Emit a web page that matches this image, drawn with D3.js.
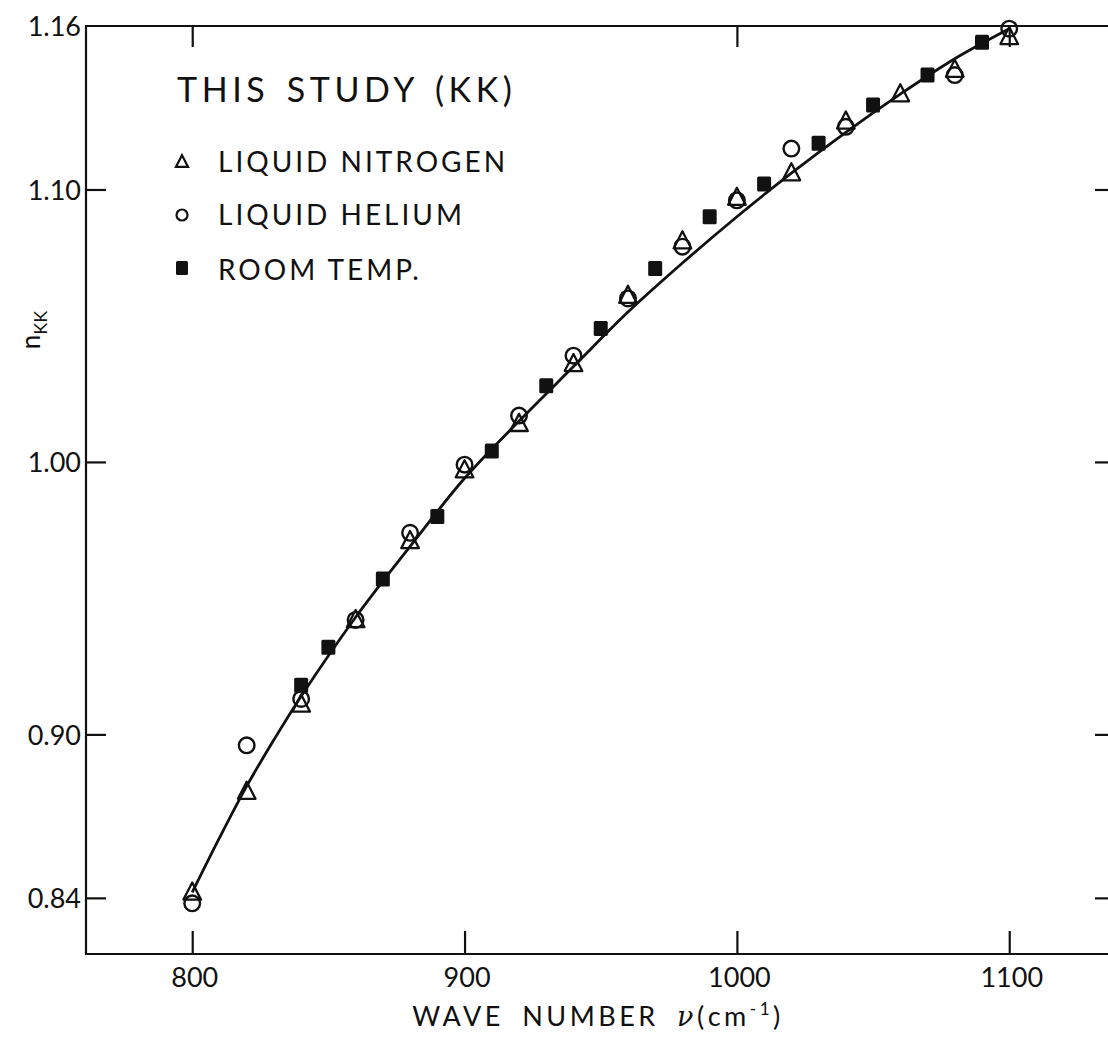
<!DOCTYPE html>
<html>
<head>
<meta charset="utf-8">
<script src="https://cdn.jsdelivr.net/npm/d3@7/dist/d3.min.js"></script>
<style>
  html, body { margin: 0; padding: 0; background: #fff; }
  svg { display: block; }
  text { font-family: Lato, "Open Sans", sans-serif; fill: #111; }
</style>
</head>
<body>
<svg id="chart" width="1108" height="1039"></svg>
<script>
// Refractive index n_KK vs wave number, three sample temperatures
const nitrogenWave = [800, 820, 840, 860, 880, 900, 920, 940, 960, 980, 1000, 1020, 1040, 1060, 1080, 1100];
const nitrogenN    = [0.842, 0.879, 0.911, 0.942, 0.971, 0.997, 1.014, 1.036, 1.061, 1.081, 1.097, 1.106, 1.125, 1.135, 1.144, 1.156];

const heliumWave = [800, 820, 840, 860, 880, 900, 920, 940, 960, 980, 1000, 1020, 1040, 1080, 1100];
const heliumN    = [0.838, 0.896, 0.913, 0.942, 0.974, 0.999, 1.017, 1.039, 1.060, 1.079, 1.096, 1.115, 1.123, 1.142, 1.159];

const roomWave = [840, 850, 870, 890, 910, 930, 950, 970, 990, 1010, 1030, 1050, 1070, 1090];
const roomN    = [0.918, 0.932, 0.957, 0.980, 1.004, 1.028, 1.049, 1.071, 1.090, 1.102, 1.117, 1.131, 1.142, 1.154];

// Smooth fitted curve
const curveWave = [800, 810, 820, 830, 840, 860, 880, 900, 920, 940, 960, 980, 1000, 1020, 1040, 1060, 1080, 1100];
const curveN    = [0.842, 0.862, 0.881, 0.898, 0.914, 0.943, 0.969, 0.994, 1.015, 1.035, 1.055, 1.073, 1.090, 1.106, 1.121, 1.135, 1.148, 1.159];

const xTickValues = [800, 900, 1000, 1100];
const xTickLabels = ["800", "900", "1000", "1100"];
const xTopTickValues = [800, 1000, 1100];
const yTickValues = [0.84, 0.90, 1.00, 1.10, 1.16];
const yTickLabels = ["0.84", "0.90", "1.00", "1.10", "1.16"];

const legendTitle = "THIS STUDY (KK)";
const legendLabels = ["LIQUID NITROGEN", "LIQUID HELIUM", "ROOM TEMP."];

const svg = d3.select("#chart");
const ink = "#111";

const plot = { left: 86, right: 1110, top: 26, bottom: 954 };

const x = d3.scaleLinear().domain([761, 1137]).range([plot.left, plot.right]);
const y = d3.scaleLinear().domain([0.8194, 1.16]).range([plot.bottom, plot.top]);

// Frame
const frame = svg.append("g").attr("stroke", ink).attr("stroke-width", 2.2).attr("fill", "none");
frame.append("line").attr("x1", plot.left).attr("x2", plot.left).attr("y1", plot.top - 1).attr("y2", plot.bottom + 1);
frame.append("line").attr("x1", plot.left).attr("x2", plot.right).attr("y1", plot.bottom).attr("y2", plot.bottom);
frame.append("line").attr("x1", plot.left - 1).attr("x2", plot.right).attr("y1", plot.top).attr("y2", plot.top);
frame.append("line").attr("x1", plot.right).attr("x2", plot.right).attr("y1", plot.top).attr("y2", plot.bottom);

// Bottom axis ticks (pointing inward) and labels
const xAxisBottom = d3.axisBottom(x).tickValues(xTickValues).tickSize(0).tickPadding(0)
  .tickFormat((d, i) => xTickLabels[i]);
const gxb = svg.append("g").attr("transform", `translate(0,${plot.bottom})`).call(xAxisBottom);
gxb.select(".domain").remove();
gxb.selectAll(".tick").append("line").attr("y1", 0).attr("y2", -23).attr("stroke", ink).attr("stroke-width", 2.2);
gxb.selectAll(".tick text").attr("x", 2).attr("y", 33).attr("dy", 0).attr("font-size", 27).attr("fill", ink)
  .style("font-family", "Lato, sans-serif");

// Top axis ticks
const gxt = svg.append("g").attr("transform", `translate(0,${plot.top})`)
  .call(d3.axisTop(x).tickValues(xTopTickValues).tickSize(0).tickFormat(""));
gxt.select(".domain").remove();
gxt.selectAll(".tick").append("line").attr("y1", 0).attr("y2", 21).attr("stroke", ink).attr("stroke-width", 2.2);

// Left axis ticks and labels
const yAxisLeft = d3.axisLeft(y).tickValues(yTickValues).tickSize(0).tickPadding(0)
  .tickFormat((d, i) => yTickLabels[i]);
const gyl = svg.append("g").attr("transform", `translate(${plot.left},0)`).call(yAxisLeft);
gyl.select(".domain").remove();
gyl.selectAll(".tick").filter(d => d < 1.16).append("line").attr("x1", 0).attr("x2", 20)
  .attr("stroke", ink).attr("stroke-width", 2.2);
gyl.selectAll(".tick text").attr("x", -5).attr("dy", "0.36em").attr("font-size", 27).attr("fill", ink)
  .style("font-family", "Lato, sans-serif");

// Right axis ticks
const gyr = svg.append("g").attr("transform", `translate(${plot.right},0)`)
  .call(d3.axisRight(y).tickValues(yTickValues.filter(v => v < 1.16)).tickSize(0).tickFormat(""));
gyr.select(".domain").remove();
gyr.selectAll(".tick").append("line").attr("x1", 0).attr("x2", -15).attr("stroke", ink).attr("stroke-width", 2.2);

// Axis titles
svg.append("text")
  .attr("x", 598).attr("y", 1026)
  .attr("text-anchor", "middle").attr("font-size", 27).attr("letter-spacing", 3.5).attr("word-spacing", 8)
  .html('WAVE NUMBER <tspan font-style="italic" font-family="DejaVu Serif, serif">ν</tspan>(cm<tspan dy="-11" font-size="17">-1</tspan><tspan dy="11">)</tspan>');

svg.append("text")
  .attr("transform", "translate(40,330) rotate(-90)")
  .attr("text-anchor", "middle").attr("font-size", 26)
  .html('n<tspan dy="7" font-size="18">KK</tspan>');

// Fitted curve
const line = d3.line().x(d => x(d[0])).y(d => y(d[1])).curve(d3.curveCatmullRom.alpha(0.5));
svg.append("path")
  .datum(curveWave.map((w, i) => [w, curveN[i]]))
  .attr("d", line).attr("fill", "none").attr("stroke", ink).attr("stroke-width", 2.8);

// Marker shapes
const triPath = s => `M0,${-s * 0.62}L${s * 0.55},${s * 0.45}L${-s * 0.55},${s * 0.45}Z`;

function drawTriangles(g, xs, ys, s) {
  g.selectAll(null).data(xs.map((w, i) => [w, ys[i]])).join("path")
    .attr("transform", d => `translate(${x(d[0])},${y(d[1])})`)
    .attr("d", triPath(s)).attr("fill", "none").attr("stroke", ink).attr("stroke-width", 2.3)
    .attr("stroke-linejoin", "round");
}
function drawCircles(g, xs, ys, r) {
  g.selectAll(null).data(xs.map((w, i) => [w, ys[i]])).join("circle")
    .attr("cx", d => x(d[0])).attr("cy", d => y(d[1])).attr("r", r)
    .attr("fill", "none").attr("stroke", ink).attr("stroke-width", 2.4);
}
function drawSquares(g, xs, ys, w, h) {
  g.selectAll(null).data(xs.map((v, i) => [v, ys[i]])).join("rect")
    .attr("x", d => x(d[0]) - w / 2).attr("y", d => y(d[1]) - h / 2)
    .attr("width", w).attr("height", h).attr("rx", 1.5)
    .attr("fill", ink);
}

const marks = svg.append("g");
drawSquares(marks.append("g"), roomWave, roomN, 14, 15);
drawCircles(marks.append("g"), heliumWave, heliumN, 7.8);
drawTriangles(marks.append("g"), nitrogenWave, nitrogenN, 16);

// Legend
const legend = svg.append("g");
legend.append("text").attr("x", 177).attr("y", 102).attr("font-size", 34).attr("letter-spacing", 4.6)
  .attr("word-spacing", 4).text(legendTitle);
const rowsY = [172, 225, 280];
legendLabels.forEach((t, i) => {
  legend.append("text").attr("x", 218).attr("y", rowsY[i]).attr("font-size", 28).attr("letter-spacing", 3)
    .text(t);
});
const lg0 = legend.append("g").attr("transform", `translate(182,${rowsY[0] - 10})`);
lg0.append("path").attr("d", triPath(11)).attr("fill", "none").attr("stroke", ink).attr("stroke-width", 2.2);
legend.append("circle").attr("cx", 182).attr("cy", rowsY[1] - 10).attr("r", 5.5)
  .attr("fill", "none").attr("stroke", ink).attr("stroke-width", 2.2);
legend.append("rect").attr("x", 176).attr("y", rowsY[2] - 19).attr("width", 12).attr("height", 14)
  .attr("rx", 1.5).attr("fill", ink);
</script>
</body>
</html>
